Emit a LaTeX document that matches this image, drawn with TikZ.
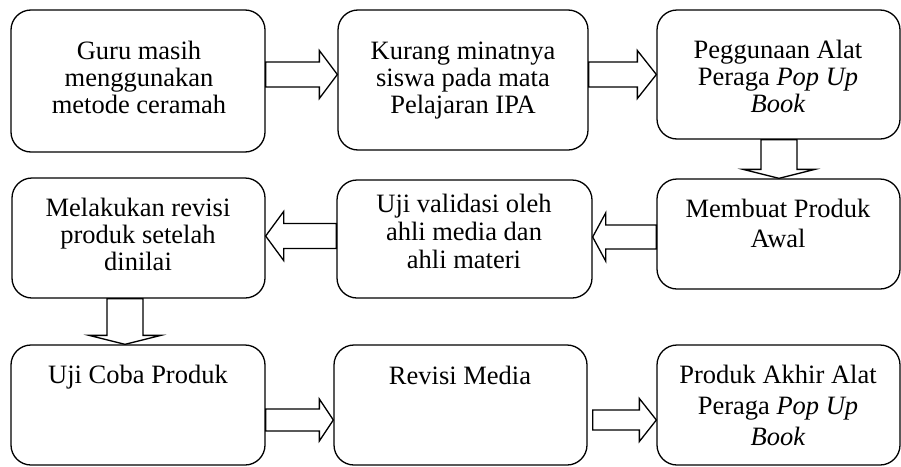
\documentclass[tikz,border=0pt]{standalone}
\usepackage{fontspec}
\setmainfont{Liberation Serif}
\usetikzlibrary{calc}
\tikzset{
  box/.style={draw, rounded corners=20pt, line width=1.3pt, inner sep=0pt},
  txt/.style={anchor=base, align=center, inner sep=0pt, font=\fontsize{26.5}{27.5}\selectfont},
  blk/.style={draw, line width=1.3pt, line join=miter, fill=white}
}
% right/left block arrow: #1 tail anchor, #2 tip anchor, #3 centre y, #4 shaft half, #5 head half, #6 head length
\newcommand\rightblk[6]{%
  \draw[blk] let \p1=(#1), \p2=(#2) in
    (\x1,{-(#3-#4)*1pt}) -- ({\x2-#6pt},{-(#3-#4)*1pt}) -- ({\x2-#6pt},{-(#3-#5)*1pt})
    -- (\x2,{-#3*1pt}) -- ({\x2-#6pt},{-(#3+#5)*1pt}) -- ({\x2-#6pt},{-(#3+#4)*1pt})
    -- (\x1,{-(#3+#4)*1pt}) -- cycle;}
\newcommand\leftblk[6]{%
  \draw[blk] let \p1=(#1), \p2=(#2) in
    (\x1,{-(#3-#4)*1pt}) -- ({\x2+#6pt},{-(#3-#4)*1pt}) -- ({\x2+#6pt},{-(#3-#5)*1pt})
    -- (\x2,{-#3*1pt}) -- ({\x2+#6pt},{-(#3+#5)*1pt}) -- ({\x2+#6pt},{-(#3+#4)*1pt})
    -- (\x1,{-(#3+#4)*1pt}) -- cycle;}
% down block arrow: #3 centre x
\newcommand\downblk[6]{%
  \draw[blk] let \p1=(#1), \p2=(#2) in
    ({(#3-#4)*1pt},\y1) -- ({(#3-#4)*1pt},{\y2+#6pt}) -- ({(#3-#5)*1pt},{\y2+#6pt})
    -- ({#3*1pt},\y2) -- ({(#3+#5)*1pt},{\y2+#6pt}) -- ({(#3+#4)*1pt},{\y2+#6pt})
    -- ({(#3+#4)*1pt},\y1) -- cycle;}
\begin{document}
\begin{tikzpicture}[x=1pt,y=-1pt]
\useasboundingbox (0,0) rectangle (901,466);
% boxes
\node[box, minimum width=254pt, minimum height=142pt] (b1) at (138,81) {};
\node[box, minimum width=250pt, minimum height=140pt] (b2) at (463,80) {};
\node[box, minimum width=243pt, minimum height=129pt] (b3) at (778.5,74.5) {};
\node[box, minimum width=243pt, minimum height=110pt] (b4) at (778.5,234) {};
\node[box, minimum width=255pt, minimum height=118pt] (b5) at (464.5,239) {};
\node[box, minimum width=253pt, minimum height=120pt] (b6) at (138.5,238) {};
\node[box, minimum width=254pt, minimum height=120pt] (b7) at (138,405) {};
\node[box, minimum width=253pt, minimum height=120pt] (b8) at (460.5,405) {};
\node[box, minimum width=243pt, minimum height=120pt] (b9) at (778.5,405) {};
% texts (anchor = baseline of last line)
\node[txt, font=\fontsize{26.5}{27}\selectfont] (t1) at (139,113) {Guru masih\\menggunakan\\metode ceramah};
\node[txt, font=\fontsize{26.5}{27}\selectfont] (t2) at (463,113) {Kurang minatnya\\siswa pada mata\\Pelajaran IPA};
\node[txt, font=\fontsize{26.5}{27}\selectfont] (t3) at (778,112.5) {Peggunaan Alat\\Peraga \textit{Pop Up}\\\textit{Book}};
\node[txt, font=\fontsize{26.5}{30}\selectfont] (t4) at (778,247) {Membuat Produk\\Awal};
\node[txt, font=\fontsize{26.5}{28}\selectfont] (t5) at (464,268) {Uji validasi oleh\\ahli media dan\\ahli materi};
\node[txt, font=\fontsize{26.5}{27}\selectfont] (t6) at (138,270) {Melakukan revisi\\produk setelah\\dinilai};
\node[txt] (t7) at (138,383) {Uji Coba Produk};
\node[txt] (t8) at (460,384) {Revisi Media};
\node[txt, font=\fontsize{26.5}{31}\selectfont] (t9) at (778,445) {Produk Akhir Alat\\Peraga \textit{Pop Up}\\\textit{Book}};
% block arrows
\rightblk{b1.east}{b2.west}{74.5}{12.5}{24}{18}
\rightblk{b2.east}{b3.west}{74.5}{12.5}{24}{19}
\downblk{b3.south}{b4.north}{779}{18}{36}{9}
\leftblk{b4.west}{b5.east}{237}{12}{24}{13}
\leftblk{b5.west}{b6.east}{236}{12.5}{24.5}{18}
\downblk{b6.south}{b7.north}{125}{18}{36}{9}
\rightblk{b7.east}{b8.west}{420}{11}{21}{14}
\rightblk{$(b8.east)+(5,0)$}{b9.west}{420}{10}{21.5}{17}
\end{tikzpicture}
\end{document}
